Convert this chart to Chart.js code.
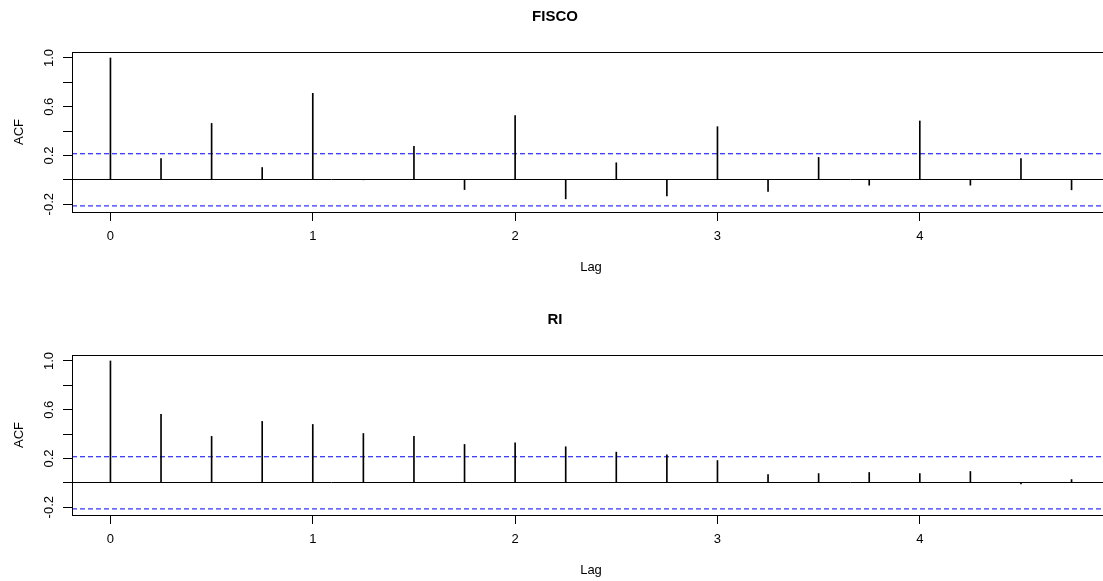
<!DOCTYPE html>
<html>
<head>
<meta charset="utf-8">
<script src="https://cdn.jsdelivr.net/npm/chart.js@4/dist/chart.umd.min.js"></script>
<style>
  body { margin: 0; background: #fff; overflow: hidden; width: 1103px; height: 581px; }
  .panel { position: absolute; left: 0; }
</style>
</head>
<body>
<canvas id="fiscoChart" class="panel" width="1120" height="290" style="top:0px"></canvas>
<canvas id="riChart" class="panel" width="1120" height="290" style="top:303px"></canvas>
<script>
// lags (in years, frequency 4)
const lags = [0, 0.25, 0.5, 0.75, 1, 1.25, 1.5, 1.75, 2, 2.25, 2.5, 2.75, 3, 3.25, 3.5, 3.75, 4, 4.25, 4.5, 4.75];
const fiscoAcf = [1.0, 0.175, 0.463, 0.101, 0.71, 0.0, 0.274, -0.08, 0.527, -0.156, 0.14, -0.132, 0.436, -0.096, 0.184, -0.044, 0.483, -0.044, 0.175, -0.082];
const riAcf = [1.0, 0.562, 0.381, 0.504, 0.479, 0.405, 0.381, 0.315, 0.329, 0.296, 0.252, 0.23, 0.183, 0.068, 0.076, 0.085, 0.076, 0.093, -0.008, 0.027];
const ciFisco = 0.214;
const ciRi = 0.214;
const xTickLabels = ['0', '1', '2', '3', '4'];
const yTickLabels = ['-0.2', '0.2', '0.6', '1.0'];

// axis limits like R's 4% extension
const xMin = -0.19, xMax = 4.94;
const yMin = -0.264, yMax = 1.049;

const fontFamily = "'Liberation Sans', Arial, sans-serif";

// frame around the plot region
const boxPlugin = {
  id: 'box',
  afterDraw(chart) {
    const { ctx, chartArea } = chart;
    ctx.save();
    ctx.strokeStyle = '#000';
    ctx.lineWidth = 1;
    ctx.strokeRect(Math.round(chartArea.left) + 0.5, Math.round(chartArea.top) + 0.5,
      chartArea.right - chartArea.left, Math.round(chartArea.bottom - chartArea.top));
    ctx.restore();
  }
};

function ciLine(value) {
  return {
    type: 'line',
    data: [{ x: xMin, y: value }, { x: xMax, y: value }],
    borderColor: '#0000ff',
    borderWidth: 1,
    borderDash: [5, 3],
    pointRadius: 0,
    fill: false
  };
}

function makeAcfChart(canvasId, title, values, ci) {
  new Chart(document.getElementById(canvasId).getContext('2d'), {
    type: 'bar',
    data: {
      datasets: [
        {
          data: lags.map((lag, i) => ({ x: lag, y: values[i] })),
          backgroundColor: '#000',
          barThickness: 1,
          borderWidth: 0
        },
        ciLine(ci),
        ciLine(-ci)
      ]
    },
    options: {
      responsive: false,
      animation: false,
      layout: { padding: { left: 0, right: 10, top: 0, bottom: 0 } },
      plugins: {
        legend: { display: false },
        tooltip: { enabled: false },
        title: {
          display: true,
          text: title,
          color: '#000',
          font: { family: fontFamily, size: 15, weight: 'bold', lineHeight: 1.2 },
          padding: { top: 8, bottom: 26 }
        }
      },
      scales: {
        x: {
          type: 'linear',
          min: xMin,
          max: xMax,
          offset: false,
          border: { display: false },
          grid: { offset: false, drawOnChartArea: false, tickLength: 9, color: '#000', tickColor: '#000' },
          ticks: {
            stepSize: 1,
            includeBounds: false,
            padding: 8,
            color: '#000',
            font: { family: fontFamily, size: 13 },
            callback: (v) => xTickLabels.includes(String(v)) ? String(v) : ''
          },
          title: {
            display: true,
            text: 'Lag',
            color: '#000',
            font: { family: fontFamily, size: 13 },
            padding: { top: 15, bottom: 15 }
          },
          afterFit: (scale) => { scale.height = 78; }
        },
        y: {
          min: yMin,
          max: yMax,
          border: { display: false },
          grid: {
            drawOnChartArea: true,
            tickLength: 9,
            color: (ctx) => (ctx.tick && ctx.tick.value === 0) ? '#000' : 'rgba(0,0,0,0)',
            tickColor: '#000'
          },
          ticks: {
            stepSize: 0.2,
            includeBounds: false,
            minRotation: 90,
            maxRotation: 90,
            crossAlign: 'center',
            padding: 2,
            color: '#000',
            font: { family: fontFamily, size: 13 },
            callback: (v) => {
              const s = v.toFixed(1);
              return yTickLabels.includes(s) ? s : '';
            }
          },
          title: {
            display: true,
            text: 'ACF',
            color: '#000',
            font: { family: fontFamily, size: 13 },
            padding: { top: 12, bottom: 0 }
          },
          afterFit: (scale) => { scale.width = 72; }
        }
      }
    },
    plugins: [boxPlugin]
  });
}

makeAcfChart('fiscoChart', 'FISCO', fiscoAcf, ciFisco);
makeAcfChart('riChart', 'RI', riAcf, ciRi);
</script>
</body>
</html>
